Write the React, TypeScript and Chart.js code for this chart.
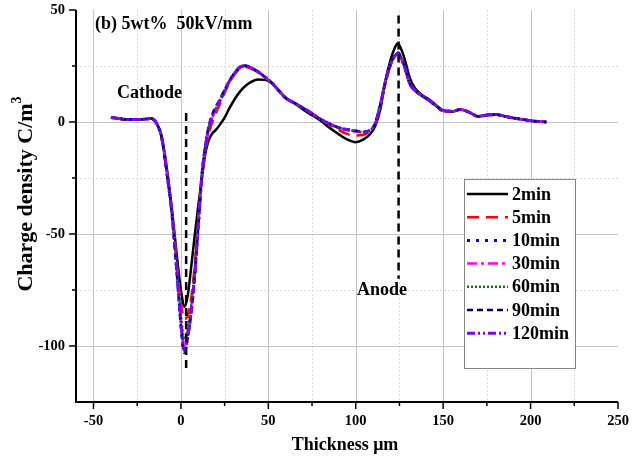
import React, { useEffect, useRef } from 'react';
import { Chart, registerables } from 'chart.js';

Chart.register(...registerables);

// ---------- data ----------
const thickness = [-40, -30, -20, -17, -14, -11, -8, -5, -2, 0, 2, 4, 6, 8, 10, 12, 14, 16, 18, 20, 22, 25, 28, 31, 34, 37, 40, 44, 48, 52, 56, 60, 65, 70, 75, 80, 85, 90, 95, 100, 104, 108, 111, 114, 117, 120, 122, 124, 126, 128, 131, 134, 138, 142, 146, 150, 155, 160, 165, 170, 175, 180, 185, 190, 195, 200, 205, 209];

const rho2min = [2.0, 1.1, 1.3, 1.6, -0.5, -6.5, -21, -40, -62, -75, -82.5, -77, -64, -50, -37, -25, -14, -8, -5, -3.5, -1.5, 2, 6.5, 10.5, 13.8, 16.2, 17.8, 19, 18.8, 17.3, 14, 10.8, 8.3, 5.5, 3, 0.6, -2.6, -5.3, -7.8, -9, -8, -5.6, -2, 5.5, 18.5, 28, 32.5, 35, 32.5, 28, 19.5, 15, 12, 10, 7.5, 5.2, 4.6, 5.6, 4.3, 2.6, 3.1, 3.3, 2.6, 1.8, 1.2, 0.6, 0.2, 0];

const rho5min = [2.0, 1.1, 1.3, 1.6, -0.5, -6.8, -22, -41, -66, -81, -88, -86, -78, -63, -43, -25, -13, -5, 0, 4, 7.5, 13, 18, 21.5, 24, 24.6, 23.8, 22.2, 20, 17.4, 14, 10.6, 8.4, 6.1, 3.6, 1.0, -1.2, -3.5, -5.3, -6, -5.8, -4.2, -1, 7, 17.5, 25.5, 28.8, 30.5, 28.3, 24.3, 16.8, 14, 11.6, 9.6, 7.2, 5, 4.8, 5.6, 4.3, 2.5, 3.1, 3.3, 2.6, 1.8, 1.2, 0.6, 0.2, 0];

const rho10min = [2.0, 1.1, 1.3, 1.6, -0.5, -7, -23, -42, -70, -90, -103, -95, -84, -68, -46, -24, -11, -2, 3, 6.3, 9, 14, 18.5, 22, 24.5, 25, 24.2, 22.4, 20.2, 17.5, 14, 10.6, 8.5, 6.2, 3.8, 1.2, -0.8, -2.5, -3.4, -4, -4.6, -3.8, -1, 7.5, 18, 26, 29.3, 31, 28.5, 24.5, 17, 14, 11.6, 9.6, 7.2, 5, 4.8, 5.6, 4.3, 2.5, 3.1, 3.3, 2.6, 1.8, 1.2, 0.6, 0.2, 0];

const rho30min = [2.0, 1.1, 1.3, 1.6, -0.5, -7, -22.5, -41.5, -68, -88, -100, -93, -82, -66, -45, -24, -11.5, -3, 2, 5.5, 8.5, 13.6, 18.2, 21.8, 24.4, 25, 24.2, 22.4, 20.1, 17.5, 14, 10.6, 8.5, 6.2, 3.8, 1.2, -0.8, -2.6, -3.6, -4.2, -4.6, -3.8, -1, 7.4, 18, 25.8, 29, 30.5, 28.3, 24.4, 17, 14, 11.6, 9.6, 7.2, 5, 4.8, 5.6, 4.3, 2.5, 3.1, 3.3, 2.6, 1.8, 1.2, 0.6, 0.2, 0];

const rho60min = [2.0, 1.1, 1.3, 1.6, -0.5, -7, -22.5, -41, -67, -86, -97, -91, -81, -65, -44, -24, -11.5, -2.5, 2.5, 6, 8.8, 13.8, 18.4, 22, 24.5, 25, 24.2, 22.4, 20.2, 17.5, 14, 10.6, 8.5, 6.2, 3.8, 1.2, -0.8, -2.5, -3.4, -4, -4.5, -3.7, -1, 7.5, 18, 26, 29.2, 30.8, 28.5, 24.5, 17, 14, 11.6, 9.6, 7.2, 5, 4.8, 5.6, 4.3, 2.5, 3.1, 3.3, 2.6, 1.8, 1.2, 0.6, 0.2, 0];

const rho90min = [2.0, 1.1, 1.3, 1.6, -0.5, -7, -23, -42.5, -71, -91, -103, -96, -85, -68, -46, -23.5, -10.5, -1.5, 3.5, 7, 9.6, 14.4, 18.8, 22.3, 24.7, 25.2, 24.3, 22.5, 20.2, 17.5, 14, 10.6, 8.5, 6.2, 3.8, 1.2, -0.8, -2.4, -3.3, -3.9, -4.4, -3.6, -1, 7.6, 18.2, 26.2, 29.5, 31, 28.6, 24.6, 17, 14, 11.6, 9.6, 7.2, 5, 4.8, 5.6, 4.3, 2.5, 3.1, 3.3, 2.6, 1.8, 1.2, 0.6, 0.2, 0];

const rho120min = [2.0, 1.1, 1.3, 1.6, -0.5, -7, -23, -42, -70, -90, -102, -95, -84, -67, -45.5, -23.5, -11, -2.5, 3, 6.5, 9.2, 14.2, 18.6, 22.2, 24.6, 25.1, 24.2, 22.4, 20.2, 17.5, 14, 10.6, 8.5, 6.2, 3.8, 1.2, -0.8, -2.5, -3.5, -4.1, -4.6, -3.8, -1, 7.5, 18, 25.8, 29, 30.6, 28.3, 24.3, 16.8, 14, 11.6, 9.6, 7.2, 5, 4.8, 5.6, 4.3, 2.5, 3.1, 3.3, 2.6, 1.8, 1.2, 0.6, 0.2, 0];

const seriesNames = ['2min', '5min', '10min', '30min', '60min', '90min', '120min'];
const seriesValues = [rho2min, rho5min, rho10min, rho30min, rho60min, rho90min, rho120min];

const xTickValues = [-50, 0, 50, 100, 150, 200, 250];
const yTickValues = [50, 0, -50, -100];
const xMinorValues = [-25, 25, 75, 125, 175, 225];
const yMinorValues = [25, -25, -75];

const electrodeX = [3, 124.5];
const electrodeTop = [4, 47.5];
const electrodeBottom = [-111, -70];

const chartTitle = '(b) 5wt%  50kV/mm';
const cathodeLabel = 'Cathode';
const anodeLabel = 'Anode';
const xAxisTitle = 'Thickness μm';
const yAxisTitle = 'Charge density C/m';
const yAxisTitleSup = '3';

// ---------- styles ----------
const seriesColors = ['#000000', '#ff0000', '#0000ff', '#ff00ff', '#008000', '#000080', '#8000ff'];
const seriesDashes = [[], [12, 7], [3, 6], [10, 4, 3, 4], [2, 2], [6, 4], [8, 3, 2, 3, 2, 3]];
const seriesWidths = [2.5, 2.5, 3, 2.5, 2.5, 2.5, 3];

const FONT = '"Liberation Serif", "Times New Roman", Times, serif';

const overlayPlugin = {
  id: 'overlay',
  beforeDatasetsDraw(chart: any) {
    const { ctx, chartArea: a, scales } = chart;
    const x = scales.x;
    const y = scales.y;
    ctx.save();
    ctx.lineWidth = 1;
    // minor grid (dotted)
    ctx.strokeStyle = '#dcdcdc';
    ctx.setLineDash([2, 2]);
    for (const v of xMinorValues) {
      const px = Math.round(x.getPixelForValue(v)) + 0.5;
      ctx.beginPath(); ctx.moveTo(px, a.top); ctx.lineTo(px, a.bottom); ctx.stroke();
    }
    for (const v of yMinorValues) {
      const py = Math.round(y.getPixelForValue(v)) + 0.5;
      ctx.beginPath(); ctx.moveTo(a.left, py); ctx.lineTo(a.right, py); ctx.stroke();
    }
    // major grid
    ctx.strokeStyle = '#c4c4c4';
    ctx.setLineDash([]);
    for (const v of xTickValues) {
      if (v >= 250) continue;
      const px = Math.round(x.getPixelForValue(v)) + 0.5;
      ctx.beginPath(); ctx.moveTo(px, a.top); ctx.lineTo(px, a.bottom); ctx.stroke();
    }
    for (const v of yTickValues) {
      if (v >= 50) continue;
      const py = Math.round(y.getPixelForValue(v)) + 0.5;
      ctx.beginPath(); ctx.moveTo(a.left, py); ctx.lineTo(a.right, py); ctx.stroke();
    }
    ctx.restore();
  },
  afterDatasetsDraw(chart: any) {
    const { ctx, scales } = chart;
    const x = scales.x;
    const y = scales.y;
    ctx.save();
    ctx.strokeStyle = '#000';
    ctx.lineWidth = 2.5;
    ctx.setLineDash([8, 5]);
    for (let i = 0; i < electrodeX.length; i++) {
      const px = x.getPixelForValue(electrodeX[i]);
      ctx.beginPath();
      ctx.moveTo(px, y.getPixelForValue(electrodeTop[i]));
      ctx.lineTo(px, y.getPixelForValue(electrodeBottom[i]));
      ctx.stroke();
    }
    ctx.restore();
  },
  afterDraw(chart: any) {
    const { ctx, chartArea: a, scales } = chart;
    const x = scales.x;
    const y = scales.y;
    ctx.save();
    // axes lines
    ctx.strokeStyle = '#000';
    ctx.lineWidth = 2;
    ctx.setLineDash([]);
    ctx.beginPath();
    ctx.moveTo(a.left, a.top);
    ctx.lineTo(a.left, a.bottom);
    ctx.lineTo(a.right, a.bottom);
    ctx.stroke();
    // tick marks
    ctx.lineWidth = 1.5;
    for (const v of xTickValues) {
      const px = x.getPixelForValue(v);
      ctx.beginPath(); ctx.moveTo(px, a.bottom); ctx.lineTo(px, a.bottom + 7); ctx.stroke();
    }
    for (const v of xMinorValues) {
      const px = x.getPixelForValue(v);
      ctx.beginPath(); ctx.moveTo(px, a.bottom); ctx.lineTo(px, a.bottom + 4); ctx.stroke();
    }
    for (const v of yTickValues) {
      const py = y.getPixelForValue(v);
      ctx.beginPath(); ctx.moveTo(a.left, py); ctx.lineTo(a.left - 7, py); ctx.stroke();
    }
    for (const v of yMinorValues) {
      const py = y.getPixelForValue(v);
      ctx.beginPath(); ctx.moveTo(a.left, py); ctx.lineTo(a.left - 4, py); ctx.stroke();
    }

    // texts
    ctx.fillStyle = '#000';
    ctx.textBaseline = 'middle';
    ctx.textAlign = 'left';
    ctx.font = `bold 18px ${FONT}`;
    ctx.fillText(chartTitle, 95, 24);
    ctx.fillText(cathodeLabel, 117, 93);
    ctx.fillText(anodeLabel, 357, 290);

    // x axis title
    ctx.textAlign = 'center';
    ctx.fillText(xAxisTitle, 345, 445);

    // y axis title (rotated)
    ctx.save();
    ctx.translate(26, 194);
    ctx.rotate(-Math.PI / 2);
    ctx.font = `bold 22px ${FONT}`;
    const mainW = ctx.measureText(yAxisTitle).width;
    ctx.font = `bold 14px ${FONT}`;
    const supW = ctx.measureText(yAxisTitleSup).width;
    const total = mainW + supW;
    ctx.textAlign = 'left';
    ctx.font = `bold 22px ${FONT}`;
    ctx.fillText(yAxisTitle, -total / 2, 0);
    ctx.font = `bold 14px ${FONT}`;
    ctx.fillText(yAxisTitleSup, -total / 2 + mainW, -9);
    ctx.restore();

    // legend
    const bx = 464, by = 179, bw = 111, bh = 189;
    ctx.fillStyle = '#ffffff';
    ctx.fillRect(bx, by, bw, bh);
    ctx.strokeStyle = '#888888';
    ctx.lineWidth = 1;
    ctx.strokeRect(bx + 0.5, by + 0.5, bw, bh);
    ctx.font = `bold 18px ${FONT}`;
    ctx.textAlign = 'left';
    ctx.textBaseline = 'middle';
    for (let i = 0; i < seriesNames.length; i++) {
      const ly = 194 + i * 23.2;
      ctx.strokeStyle = seriesColors[i];
      ctx.lineWidth = seriesWidths[i];
      ctx.setLineDash(seriesDashes[i]);
      ctx.beginPath();
      ctx.moveTo(467, ly);
      ctx.lineTo(508, ly);
      ctx.stroke();
      ctx.setLineDash([]);
      ctx.fillStyle = '#000';
      ctx.fillText(seriesNames[i], 512, ly + 1);
    }
    ctx.restore();
  },
};

export default function App() {
  const ref = useRef<HTMLCanvasElement>(null);

  useEffect(() => {
    const canvas = ref.current;
    if (!canvas) return;
    const datasets = seriesNames.map((name, i) => ({
      label: name,
      data: thickness.map((t, j) => ({ x: t, y: seriesValues[i][j] })),
      borderColor: seriesColors[i],
      backgroundColor: seriesColors[i],
      borderWidth: seriesWidths[i],
      borderDash: seriesDashes[i],
      pointRadius: 0,
      fill: false,
      cubicInterpolationMode: 'monotone' as const,
      order: seriesNames.length - 1 - i,
    }));

    const chart = new Chart(canvas, {
      type: 'line',
      data: { datasets },
      options: {
        responsive: false,
        animation: false,
        devicePixelRatio: 1,
        layout: { padding: { top: 10, right: 17, left: 0, bottom: 0 } },
        plugins: {
          legend: { display: false },
          tooltip: { enabled: false },
          title: { display: false },
        },
        scales: {
          x: {
            type: 'linear',
            min: -60,
            max: 250,
            grid: { display: false, drawTicks: false },
            border: { display: false },
            afterBuildTicks: (s: any) => {
              s.ticks = xTickValues.map((v) => ({ value: v }));
            },
            afterFit: (s: any) => {
              s.height = 61;
              s.paddingLeft = 0;
              s.paddingRight = 0;
            },
            ticks: {
              autoSkip: false,
              maxRotation: 0,
              padding: 11,
              color: '#000',
              font: { family: FONT, size: 14.5, weight: 'bold' },
              callback: (v: any) => `${v}`,
            },
          },
          y: {
            type: 'linear',
            min: -125,
            max: 50,
            grid: { display: false, drawTicks: false },
            border: { display: false },
            afterBuildTicks: (s: any) => {
              s.ticks = yTickValues.map((v) => ({ value: v }));
            },
            afterFit: (s: any) => {
              s.width = 76;
              s.paddingTop = 0;
              s.paddingBottom = 0;
            },
            ticks: {
              autoSkip: false,
              padding: 11,
              color: '#000',
              font: { family: FONT, size: 14.5, weight: 'bold' },
              callback: (v: any) => `${v}`,
            },
          },
        },
      },
      plugins: [overlayPlugin],
    });
    return () => chart.destroy();
  }, []);

  return (
    <div style={{ position: 'fixed', left: 0, top: 0, width: 635, height: 463, background: '#fff' }}>
      <canvas ref={ref} width={635} height={463} style={{ display: 'block', width: 635, height: 463 }} />
    </div>
  );
}
